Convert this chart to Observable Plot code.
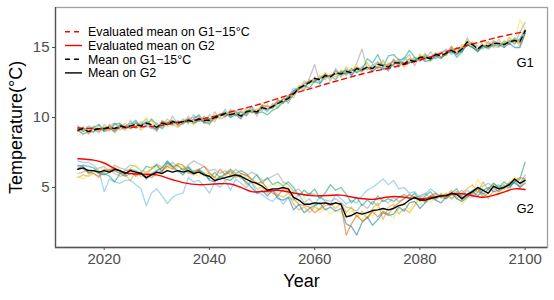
<!DOCTYPE html>
<html><head><meta charset="utf-8">
<script src="https://cdn.jsdelivr.net/npm/d3@7"></script>
<script src="https://cdn.jsdelivr.net/npm/@observablehq/plot@0.6"></script>
<style>body{margin:0;background:#fff} svg{display:block}</style>
</head><body><div id="chart"></div>
<script>
const years = d3.range(2015, 2101);
const xTicks = [2020, 2040, 2060, 2080, 2100];
const yTicks = [5, 10, 15];
const memberColors = ["#999999", "#E69F00", "#56B4E9", "#009E73", "#F0E442", "#0072B2", "#D55E00"];
const legendLabels = ["Evaluated mean on G1\u221215\u00B0C", "Evaluated mean on G2", "Mean on G1\u221215\u00B0C", "Mean on G2"];
const groupLabels = ["G1", "G2"];

const g1Mean = [9.1,9.2,9.0,9.1,9.2,9.2,9.3,9.2,9.4,9.3, 9.4,9.5,9.4,9.6,9.5,9.3,9.6,9.5,9.7,9.6, 9.7,9.8,9.7,9.9,9.8,9.8,10.0,10.1,10.3,10.2, 10.3,10.1,10.4,10.5,10.4,10.7,10.6,10.8,11.0,11.2, 11.35,11.7,12.1,12.3,12.5,12.8,12.7,13.0,12.9,13.2, 13.1,13.3,13.2,13.5,13.4,13.6,13.5,13.8,13.7,13.6, 13.9,13.9,13.8,14.1,14.0,14.3,14.3,14.2,14.5,14.4, 14.6,14.8,14.6,14.9,15.4,15.2,14.9,15.2,15.1,15.3, 15.3,15.2,15.4,15.5,15.4,16.2];
const g2Mean = [6.3,6.4,6.2,6.2,6.1,6.2,6.1,6.3,6.2,6.0, 6.2,6.1,6.0,5.7,5.9,6.1,6.0,6.2,6.1,6.2, 6.1,6.2,6.0,6.1,5.9,5.8,5.5,5.6,5.7,5.8, 5.9,5.8,5.6,5.4,5.3,5.1,4.8,4.9,4.9,5.0, 4.9,4.3,4.1,3.8,3.8,3.9,3.85,3.9,3.8,3.9, 3.8,2.9,3.0,3.2,3.1,3.2,3.35,3.4,3.5,3.4, 3.5,3.7,3.8,4.1,4.3,4.1,4.1,4.2,4.3,4.4, 4.4,4.6,4.5,4.2,4.5,4.7,5.0,4.8,4.6,5.1, 4.9,5.0,5.2,5.6,5.3,5.5];

const g1EvalYears = [2015,2020,2025,2030,2035,2040,2045,2050,2055,2060,2065,2070,2075,2080,2085,2090,2095,2100];
const g1Eval = [9.25,9.2,9.3,9.4,9.7,10.0,10.5,11.0,11.6,12.15,12.7,13.2,13.6,14.1,14.7,15.25,15.75,16.15];
const g2EvalYears = [2015,2018,2020,2022,2024,2027,2030,2033,2035,2038,2041,2044,2046,2048,2050,2053,2056,2060,2065,2068,2071,2075,2080,2085,2088,2092,2095,2098,2100];
const g2Eval = [7.05,6.95,6.75,6.35,6.05,5.95,5.9,5.55,5.35,5.2,5.25,5.25,5.0,4.7,4.7,4.8,4.6,4.4,4.45,4.25,4.15,4.35,4.2,4.45,4.55,4.3,4.55,4.9,4.85];

const g1Grey = [9.3,9.0,9.4,9.2,8.9,9.5,9.2,9.6,9.3,9.1, 9.8,9.2,9.5,9.9,9.3,9.0,9.8,9.4,10.1,9.5, 9.9,9.6,10.2,9.7,10.1,9.6,10.4,9.9,10.0,10.6, 10.1,10.5,10.2,10.8,10.1,10.9,10.4,11.0,10.7,11.5, 11.0,11.9,12.2,11.9,12.8,13.8,12.4,13.2,12.6,13.5, 12.9,13.6,13.0,13.9,14.9,13.4,13.8,13.5,14.1,13.3, 14.2,13.6,14.1,14.5,13.7,14.5,14.1,14.7,14.2,14.6, 14.9,14.5,15.0,14.6,15.7,15.0,14.7,15.5,15.3,15.0, 15.6,15.0,15.7,15.2,16.1,16.8];
const g1Orange = [9.0,9.3,8.8,9.4,9.0,9.1,9.5,8.9,9.3,9.6, 9.2,9.7,9.1,9.5,9.8,9.2,9.4,9.9,9.5,9.3, 9.6,10.1,9.5,9.8,10.0,9.9,9.7,10.3,10.1,10.5, 10.4,10.0,10.7,10.3,10.6,10.5,10.9,10.6,11.3,11.0, 11.6,11.4,12.3,12.0,12.7,12.5,13.0,12.7,13.1,12.9, 13.4,13.0,13.5,13.2,13.6,13.9,13.3,13.7,13.5,13.9, 13.7,14.2,13.6,14.0,14.3,14.1,14.6,14.0,14.4,14.7, 14.4,15.0,14.5,15.2,15.1,15.4,14.8,15.0,15.4,15.1, 15.0,15.5,15.2,15.6,15.1,16.0];
const g1Sky = [9.2,9.1,9.3,8.9,9.5,9.0,9.4,9.6,9.1,9.4, 9.6,9.3,9.7,9.4,9.2,9.6,9.3,9.7,9.4,9.8, 9.5,9.9,10.0,10.1,9.6,10.2,9.9,10.0,10.6,10.0, 10.5,10.2,10.3,10.8,10.4,10.6,10.5,10.9,11.1,11.0, 11.5,12.1,12.0,12.6,12.4,12.9,12.5,13.1,12.8,13.4, 12.9,13.2,13.4,13.3,13.6,13.4,13.7,14.0,13.4,13.8, 14.0,13.8,14.3,13.9,14.2,14.0,14.5,14.3,14.2,14.6, 14.8,14.6,15.0,14.7,15.5,15.3,15.1,14.9,15.2,15.5, 15.2,15.4,15.3,15.7,15.5,16.1];
const g1Green = [9.4,9.0,9.2,9.3,9.5,9.0,9.1,9.5,9.6,9.2, 9.5,9.8,9.3,9.4,9.9,9.5,9.2,9.6,9.8,9.5, 9.8,9.6,9.9,10.2,9.7,9.5,10.1,10.2,10.4,10.0, 10.2,10.4,10.1,10.6,10.3,10.4,10.2,10.5,10.7,11.1, 11.2,11.6,12.0,12.3,12.1,12.6,12.4,12.9,13.0,12.7, 13.3,13.1,13.5,13.2,13.4,14.2,13.9,14.5,13.6,14.4, 14.5,14.1,14.2,14.8,14.3,14.1,14.4,14.2,14.6,14.3, 14.5,14.9,14.3,14.7,15.2,15.0,14.7,15.1,14.9,15.2, 15.1,15.3,15.5,15.3,15.6,16.3];
const g1Yellow = [8.7,9.1,9.2,9.0,9.3,9.4,9.0,9.3,9.5,9.1, 9.5,9.3,9.6,10.0,9.7,9.4,9.6,9.3,9.5,9.7, 9.8,9.7,9.5,10.0,9.9,10.1,10.2,9.9,10.2,10.4, 10.3,10.0,10.6,10.4,10.6,10.8,10.7,10.9,10.8,11.4, 11.3,11.8,12.2,12.5,12.3,12.7,12.9,13.2,12.8,13.1, 13.0,13.6,13.4,13.8,13.1,13.5,13.4,13.6,14.0,13.5, 13.8,14.0,13.7,14.2,13.9,14.6,14.2,14.0,14.6,14.3, 14.7,14.7,14.8,15.0,15.6,15.1,15.3,15.5,14.9,15.4, 15.5,15.1,15.8,15.3,17.0,16.3];
const g1Blue = [9.1,8.8,9.0,9.2,9.1,9.3,9.2,9.0,9.5,9.3, 9.3,9.6,9.4,9.7,9.4,9.1,9.7,9.5,9.6,9.7, 9.7,9.9,9.6,9.8,9.7,9.9,10.0,10.2,10.1,10.3, 10.2,9.9,10.5,10.4,10.3,10.8,10.6,10.7,11.0,11.3, 11.4,11.9,12.1,12.2,12.5,12.6,12.8,12.9,13.0,13.1, 13.2,13.4,13.0,13.5,13.3,13.6,13.3,13.6,13.5,13.4, 13.8,14.0,13.9,13.9,14.1,14.3,14.0,14.1,14.4,14.2, 14.6,14.7,14.5,14.8,15.2,15.0,14.8,15.1,15.0,15.3, 15.2,15.0,15.3,15.0,15.0,16.0];
const g1Verm = [9.0,9.3,8.9,9.0,9.2,9.1,9.4,9.1,9.3,9.4, 9.2,9.4,9.5,9.6,9.3,9.2,9.7,9.6,9.8,9.4, 9.6,9.8,9.7,10.0,9.6,9.7,9.9,10.2,10.3,10.1, 10.4,10.1,10.3,10.5,10.3,10.9,10.8,10.7,11.2,11.1, 11.5,11.7,12.0,12.4,12.6,12.7,12.8,13.1,12.9,13.3, 13.1,13.2,13.3,13.6,13.4,13.6,13.5,13.9,13.8,13.7, 14.1,13.8,13.9,14.2,14.0,14.2,14.3,14.2,14.6,14.3, 14.5,15.1,14.6,15.0,15.3,15.2,14.9,15.2,15.0,15.4, 15.3,15.2,15.4,15.6,15.3,16.1];

const g2Grey = [6.0,6.1,6.3,6.2,6.4,6.5,6.2,6.6,6.4,6.3, 6.6,6.5,6.2,6.1,6.3,6.7,6.4,6.5,6.8,6.5, 6.3,6.6,6.9,6.7,6.5,6.2,6.3,6.0,6.2,5.9, 6.3,6.0,5.8,6.1,5.9,5.5,5.6,5.8,6.0,5.4, 5.2,4.7,4.9,4.4,4.6,4.5,4.3,4.1,4.0,4.2, 3.9,3.6,3.5,3.3,3.8,3.5,4.0,3.7,4.1,3.9, 4.3,4.0,4.2,4.5,4.3,4.4,4.6,4.2,4.5,4.3, 4.6,4.2,4.5,4.8,4.4,4.3,4.7,4.6,4.2,4.8, 5.0,4.9,5.3,5.6,5.3,5.9];
const g2Orange = [5.7,5.9,5.8,6.0,5.7,6.1,6.3,6.0,5.8,5.9, 5.5,6.1,5.8,5.9,6.3,6.6,6.2,6.7,6.4,6.1, 6.4,6.0,6.2,6.3,5.8,6.1,5.7,5.6,5.9,6.1, 5.7,5.9,5.2,5.4,4.9,5.0,4.6,4.8,4.5,4.3, 4.6,3.8,3.4,3.6,3.2,3.6,3.4,3.7,3.8,3.5, 3.9,3.2,3.6,2.9,3.3,2.8,3.5,3.9,2.7,3.6, 3.8,3.1,3.5,3.2,3.7,4.4,3.9,4.2,4.1,4.6, 4.4,4.8,4.2,4.6,4.9,5.2,4.6,5.4,4.8,5.3, 5.0,5.2,4.8,5.6,5.0,5.5];
const g2Sky = [6.9,6.8,6.8,6.6,6.2,4.7,5.6,5.4,5.3,5.5, 5.5,5.2,4.9,3.7,4.6,4.9,4.4,3.85,4.3,4.5, 4.6,5.7,5.4,5.5,5.1,4.6,5.3,5.0,5.5,4.8, 5.6,5.3,5.0,5.4,4.6,4.5,4.2,4.0,4.4,3.8, 4.3,4.1,4.5,3.9,4.2,3.7,4.4,4.0,3.8,4.5, 4.2,3.8,4.1,3.9,4.4,4.8,5.0,5.3,5.6,5.2, 5.5,4.9,5.0,4.6,4.7,4.3,4.5,4.9,4.6,4.3, 4.5,4.2,4.6,4.4,4.8,4.5,4.9,5.1,5.3,5.0, 5.2,4.9,5.4,5.3,5.1,5.7];
const g2Green = [6.3,6.6,6.5,6.4,6.1,6.0,5.8,5.4,6.0,6.2, 6.3,6.2,6.0,6.5,6.4,6.6,6.1,6.8,6.5,6.6, 6.2,6.5,6.1,6.3,6.0,5.6,6.1,5.7,6.0,6.3, 6.0,6.2,6.0,5.5,5.9,5.3,5.7,5.2,5.4,5.1, 5.4,5.0,4.4,4.8,4.5,4.9,4.2,4.6,5.2,4.8, 5.0,4.5,3.9,4.3,3.7,4.1,3.8,4.4,4.0,4.2, 4.0,4.3,4.5,4.2,4.6,4.0,4.4,4.7,4.2,4.5, 4.2,4.6,4.9,4.3,4.5,4.8,5.0,4.5,4.9,5.3, 5.0,5.4,5.1,5.4,5.6,6.8];
const g2Yellow = [5.8,5.6,5.9,6.1,6.4,6.3,6.0,6.5,6.3,5.9, 6.4,6.6,6.2,6.0,6.5,6.2,6.6,6.3,6.7,6.4, 6.5,6.3,6.0,5.8,6.1,5.9,5.4,5.8,5.5,5.7, 6.1,5.6,5.8,5.5,5.2,5.4,5.0,5.3,5.1,5.3, 5.0,4.6,4.0,4.3,3.6,3.9,3.2,3.5,3.1,3.4, 3.2,2.8,3.4,3.0,2.7,3.3,2.9,3.6,3.3,3.1, 2.8,3.5,3.9,3.4,4.0,3.7,4.3,3.9,4.4,4.2, 4.6,4.1,4.4,3.8,4.2,4.5,5.6,4.9,4.3,4.7, 4.5,4.9,5.3,5.8,5.2,5.4];
const g2Blue = [6.6,6.5,6.0,6.2,6.0,5.9,6.1,6.2,6.0,5.8, 6.0,5.9,6.1,5.6,6.0,6.2,6.4,6.9,6.5,6.2, 5.9,6.4,6.0,6.2,6.0,5.5,5.4,5.8,5.6,5.5, 5.9,5.7,5.4,5.0,4.6,4.8,4.4,4.8,4.2,4.1, 4.3,3.4,3.8,3.2,3.5,3.7,3.9,3.4,3.6,3.3, 3.5,2.4,2.2,1.6,2.5,2.9,2.3,2.7,3.2,3.0, 3.1,3.6,3.3,3.9,4.0,3.5,3.9,4.4,4.1,3.9, 4.3,4.6,4.2,4.0,4.3,4.7,4.4,4.8,5.0,4.7, 4.8,5.1,5.0,5.4,5.0,5.3];
const g2Verm = [6.5,6.3,6.1,6.0,5.8,6.3,6.2,6.4,6.1,5.9, 6.3,5.8,6.0,5.9,5.7,6.0,6.2,6.5,6.3,6.7, 6.6,6.1,5.9,6.3,6.5,6.0,5.7,6.3,5.9,6.2, 5.8,6.0,5.9,5.6,5.3,5.4,4.9,4.6,4.4,4.9, 4.8,4.2,3.8,3.7,3.6,3.2,3.5,3.9,3.7,3.9, 3.8,1.6,2.4,3.0,2.6,2.8,3.3,2.9,3.3,3.1, 3.6,3.9,4.2,4.5,4.3,4.2,4.0,4.4,4.6,4.3, 4.2,4.5,4.7,4.1,4.4,4.6,4.9,4.3,4.6,5.0, 4.7,5.0,5.3,5.5,5.7,5.6];

const g1Members = [g1Grey, g1Orange, g1Sky, g1Green, g1Yellow, g1Blue, g1Verm];
const g2Members = [g2Grey, g2Orange, g2Sky, g2Green, g2Yellow, g2Blue, g2Verm];

function toRows(vals, yrs, extra) {
  return vals.map((v, i) => ({year: yrs[i], value: v, ...extra})).filter(d => d.year != null);
}
const memberRows = [];
g1Members.forEach((arr, k) => memberRows.push(...toRows(arr, years, {id: "G1-" + k, color: memberColors[k]})));
g2Members.forEach((arr, k) => memberRows.push(...toRows(arr, years, {id: "G2-" + k, color: memberColors[k]})));

const xDomain = [2010.75, 2104.25];
const yDomain = [0.71, 17.86];
const font = "'Liberation Sans', Arial, Helvetica, sans-serif";

const plot = Plot.plot({
  width: 554, height: 300,
  marginLeft: 55, marginRight: 7, marginTop: 7, marginBottom: 53,
  style: {fontFamily: font, background: "#fff"},
  x: {domain: xDomain},
  y: {domain: yDomain},
  marks: [
    Plot.line(memberRows, {x: "year", y: "value", z: "id", stroke: "color", strokeOpacity: 0.55, strokeWidth: 1.3}),
    Plot.line(toRows(g1Eval, g1EvalYears, {}), {x: "year", y: "value", stroke: "#ff0000", strokeWidth: 1.4, strokeDasharray: "5,4", curve: "catmull-rom"}),
    Plot.line(toRows(g2Eval, g2EvalYears, {}), {x: "year", y: "value", stroke: "#ff0000", strokeWidth: 1.4, curve: "catmull-rom"}),
    Plot.line(toRows(g1Mean, years, {}), {x: "year", y: "value", stroke: "#000", strokeWidth: 1.4, strokeDasharray: "5,4"}),
    Plot.line(toRows(g2Mean, years, {}), {x: "year", y: "value", stroke: "#000", strokeWidth: 1.4}),
    Plot.text([{year: 2100, value: 13.93, label: groupLabels[0]}, {year: 2100, value: 3.5, label: groupLabels[1]}],
      {x: "year", y: "value", text: "label", fontSize: 13, fill: "#000"}),
    Plot.frame({stroke: "#a0a0a0", strokeWidth: 1.3}),
    Plot.ruleX([xDomain[0]], {stroke: "#555", strokeWidth: 1.3}),
    Plot.ruleY([yDomain[0]], {stroke: "#555", strokeWidth: 1.3}),
    Plot.axisX({ticks: xTicks, tickFormat: d => String(d), tickSize: 3, tickPadding: 3, fontSize: 15, color: "#4d4d4d", label: null}),
    Plot.axisY({ticks: yTicks, tickFormat: d => String(d), tickSize: 3, tickPadding: 3, fontSize: 15, color: "#4d4d4d", label: null}),
    Plot.text(["Year"], {frameAnchor: "bottom", dy: 34, fontSize: 18, textAnchor: "middle", lineAnchor: "middle", fill: "#000"}),
    Plot.text(["Temperature(\u00B0C)"], {frameAnchor: "left", dx: -39, rotate: -90, fontSize: 18, textAnchor: "middle", lineAnchor: "middle", fill: "#000"})
  ]
});

// legend overlay (inside panel, top-left)
const svg = d3.select(plot);
const lg = svg.append("g").attr("font-family", font).attr("font-size", 12.4).attr("text-anchor", "start");
const styles = [
  {stroke: "#ff0000", dash: "5,4"},
  {stroke: "#ff0000", dash: null},
  {stroke: "#000", dash: "5,4"},
  {stroke: "#000", dash: null}
];
legendLabels.forEach((lab, i) => {
  const y = 31.8 + i * 13.7;
  const ln = lg.append("line").attr("x1", 65).attr("x2", 82).attr("y1", y).attr("y2", y)
    .attr("stroke", styles[i].stroke).attr("stroke-width", 1.4);
  if (styles[i].dash) ln.attr("stroke-dasharray", styles[i].dash);
  lg.append("text").attr("x", 88).attr("y", y).attr("dy", "0.36em").attr("fill", "#000").attr("text-anchor", "start").text(lab);
});

document.getElementById("chart").appendChild(plot);
</script>
</body></html>
